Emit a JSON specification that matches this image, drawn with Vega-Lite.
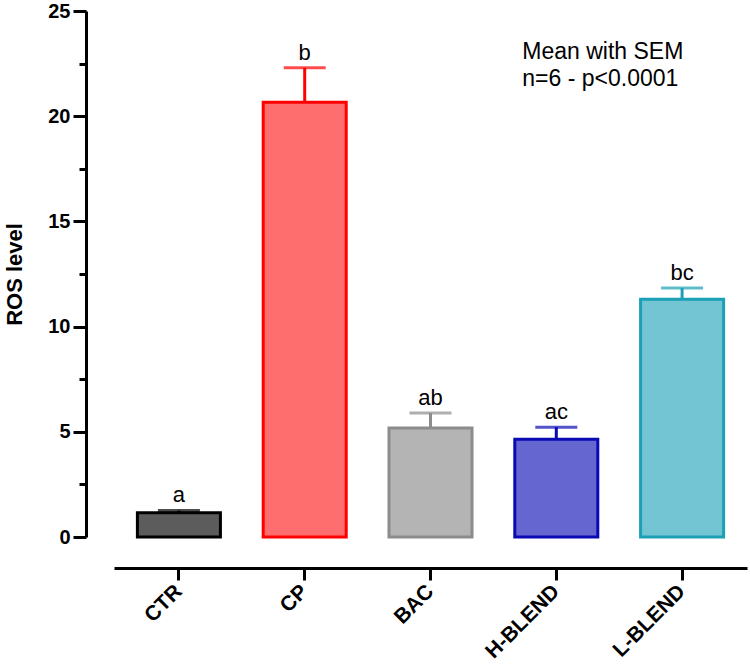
{
  "$schema": "https://vega.github.io/schema/vega-lite/v6.json",
  "width": 633,
  "height": 526,
  "autosize": "none",
  "padding": {"left": 114, "top": 11, "right": 3, "bottom": 135},
  "background": "white",
  "config": {
    "view": {"stroke": null},
    "font": "Liberation Sans"
  },
  "data": {
    "values": [
      {"group": "CTR", "mean": 1.15, "sem_top": 1.26, "letter": "a"},
      {"group": "CP", "mean": 20.66, "sem_top": 22.3, "letter": "b"},
      {"group": "BAC", "mean": 5.18, "sem_top": 5.89, "letter": "ab"},
      {"group": "H-BLEND", "mean": 4.65, "sem_top": 5.22, "letter": "ac"},
      {"group": "L-BLEND", "mean": 11.3, "sem_top": 11.83, "letter": "bc"}
    ]
  },
  "encoding": {
    "x": {
      "field": "group",
      "type": "nominal",
      "sort": null,
      "title": null,
      "scale": {"paddingInner": 0.34, "paddingOuter": 0.186},
      "axis": {
        "offset": 31,
        "domainColor": "black",
        "domainWidth": 3,
        "tickColor": "black",
        "tickWidth": 3,
        "tickSize": 12,
        "labelAngle": -45,
        "labelAlign": "right",
        "labelBaseline": "middle",
        "labelPadding": 8,
        "labelFont": "Liberation Sans",
        "labelFontSize": 21,
        "labelFontWeight": "bold",
        "labelColor": "black"
      }
    }
  },
  "layer": [
    {
      "mark": {"type": "bar", "strokeWidth": 3},
      "encoding": {
        "y": {
          "field": "mean",
          "type": "quantitative",
          "title": "ROS level",
          "scale": {"domain": [0, 25], "nice": false},
          "axis": {
            "offset": 28,
            "values": [0, 2.5, 5, 7.5, 10, 12.5, 15, 17.5, 20, 22.5, 25],
            "labelExpr": "datum.value % 5 === 0 ? datum.label : ''",
            "grid": false,
            "domainColor": "black",
            "domainWidth": 3,
            "tickColor": "black",
            "tickWidth": 3,
            "tickSize": {"condition": {"test": "datum.value % 5 === 0", "value": 13}, "value": 7},
            "labelPadding": 3,
            "labelFont": "Liberation Sans",
            "labelFontSize": 20,
            "labelFontWeight": "bold",
            "labelColor": "black",
            "titleFont": "Liberation Sans",
            "titleFontSize": 22,
            "titleFontWeight": "bold",
            "titleColor": "black",
            "titlePadding": 21
          }
        },
        "fill": {
          "field": "group",
          "type": "nominal",
          "legend": null,
          "scale": {
            "domain": ["CTR", "CP", "BAC", "H-BLEND", "L-BLEND"],
            "range": ["#5c5c5c", "#ff6e6e", "#b4b4b4", "#6666d0", "#74c5d3"]
          }
        },
        "stroke": {
          "field": "group",
          "type": "nominal",
          "legend": null,
          "scale": {
            "domain": ["CTR", "CP", "BAC", "H-BLEND", "L-BLEND"],
            "range": ["#000000", "#ff0000", "#8c8c8c", "#0a0ab4", "#1ba0b5"]
          }
        }
      }
    },
    {
      "mark": {"type": "rule", "strokeWidth": 3},
      "encoding": {
        "y": {"field": "mean", "type": "quantitative"},
        "y2": {"field": "sem_top"},
        "stroke": {"field": "group", "type": "nominal", "legend": null}
      }
    },
    {
      "mark": {"type": "tick", "thickness": 3, "size": 42, "orient": "horizontal"},
      "encoding": {
        "y": {"field": "sem_top", "type": "quantitative"},
        "color": {
          "field": "group",
          "type": "nominal",
          "legend": null,
          "scale": {
            "domain": ["CTR", "CP", "BAC", "H-BLEND", "L-BLEND"],
            "range": ["#000000", "#ff0000", "#8c8c8c", "#0a0ab4", "#1ba0b5"]
          }
        }
      }
    },
    {
      "mark": {"type": "text", "baseline": "bottom", "dy": -3, "fontSize": 22, "font": "Liberation Sans", "color": "black"},
      "encoding": {
        "y": {"field": "sem_top", "type": "quantitative"},
        "text": {"field": "letter"}
      }
    },
    {
      "data": {"values": [{"note": "Mean with SEM\nn=6 - p<0.0001"}]},
      "mark": {
        "type": "text",
        "align": "left",
        "baseline": "alphabetic",
        "dx": -34,
        "fontSize": 23,
        "lineHeight": 27,
        "lineBreak": "\n",
        "font": "Liberation Sans",
        "color": "black"
      },
      "encoding": {
        "x": {"datum": "H-BLEND"},
        "y": {"datum": 22.73},
        "text": {"field": "note"}
      }
    }
  ]
}
